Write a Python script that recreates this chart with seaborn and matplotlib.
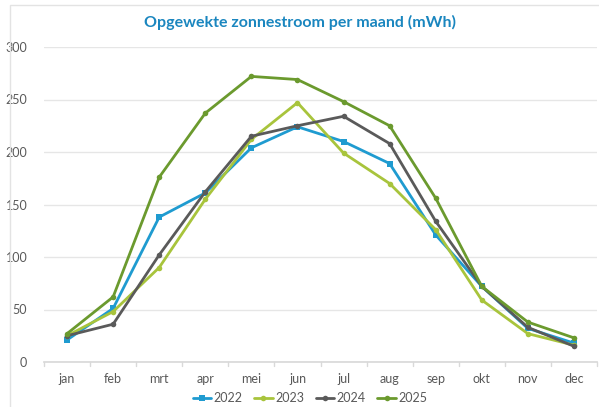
import matplotlib
matplotlib.use("Agg")
import matplotlib.pyplot as plt
import seaborn as sns
import pandas as pd
from matplotlib.patches import Rectangle

months = ["jan", "feb", "mrt", "apr", "mei", "jun", "jul", "aug", "sep", "okt", "nov", "dec"]
y2022 = [21, 51, 138, 161, 204, 224, 210, 189, 121, 72, 32, 18]
y2023 = [25, 48, 90, 155, 212, 247, 199, 170, 126, 59, 27, 16]
y2024 = [25, 36, 102, 162, 215, 225, 234, 208, 134, 72, 33, 15]
y2025 = [27, 62, 176, 237, 272, 269, 248, 225, 156, 72, 38, 23]
years = ["2022", "2023", "2024", "2025"]

rows = []
for yr, vals in zip(years, [y2022, y2023, y2024, y2025]):
    for i, (m, v) in enumerate(zip(months, vals)):
        rows.append({"maand": m, "idx": i, "jaar": yr, "waarde": v})
df = pd.DataFrame(rows)

sns.set_theme(style="white")
plt.rcParams['font.family'] = ['Lato', 'DejaVu Sans']

palette = {"2022": "#1f9bd0", "2023": "#a8c43c", "2024": "#5a5a5a", "2025": "#6b9a2e"}
markers = {"2022": "s", "2023": "o", "2024": "o", "2025": "o"}

fig = plt.figure(figsize=(5.99, 4.07), dpi=100)
fig.patches.append(Rectangle((10/599, -0.05), 1.0, 1 - 5/407 + 0.05, transform=fig.transFigure,
                             fill=False, edgecolor="#e3e3e3", linewidth=1.0))
ax = fig.add_axes([44/599, 1 - 362/407, (597 - 44)/599, (362 - 47)/407])

sns.lineplot(data=df, x="idx", y="waarde", hue="jaar", style="jaar", palette=palette,
             markers=markers, dashes=False, linewidth=2.0, markersize=4,
             markeredgewidth=0, ax=ax, legend=True)

ax.set_xlim(-0.5, 11.5)
ax.set_ylim(0, 300)
ax.set_yticks(range(0, 301, 50))
ax.set_xticks(range(12))
ax.set_xticklabels(months)
ax.tick_params(axis="both", labelsize=9, colors="#595959", length=0, pad=8)
ax.tick_params(axis="y", pad=12)
ax.grid(axis="y", color="#e6e6e6", linewidth=1)
ax.set_axisbelow(True)
for s in ["top", "right", "left"]:
    ax.spines[s].set_visible(False)
ax.spines["bottom"].set_color("#d9d9d9")
# category separator ticks
for b in range(13):
    ax.plot([b - 0.5, b - 0.5], [0, -4], color="#d9d9d9", linewidth=1, clip_on=False)
ax.set_xlabel("")
ax.set_ylabel("")

ax.legend(loc="center", bbox_to_anchor=((310 - 44) / 553, (362 - 398) / 315), ncol=4, frameon=False,
          fontsize=9, handlelength=1.5, handletextpad=0.2, columnspacing=0.9,
          labelcolor="#595959", borderpad=0.1)

fig.text(0.5, 1 - 22/407, "Opgewekte zonnestroom per maand (mWh)", ha="center", va="center",
         fontsize=11.5, fontweight="bold", color="#1a86bf")

fig.savefig("out.png", dpi=100)
